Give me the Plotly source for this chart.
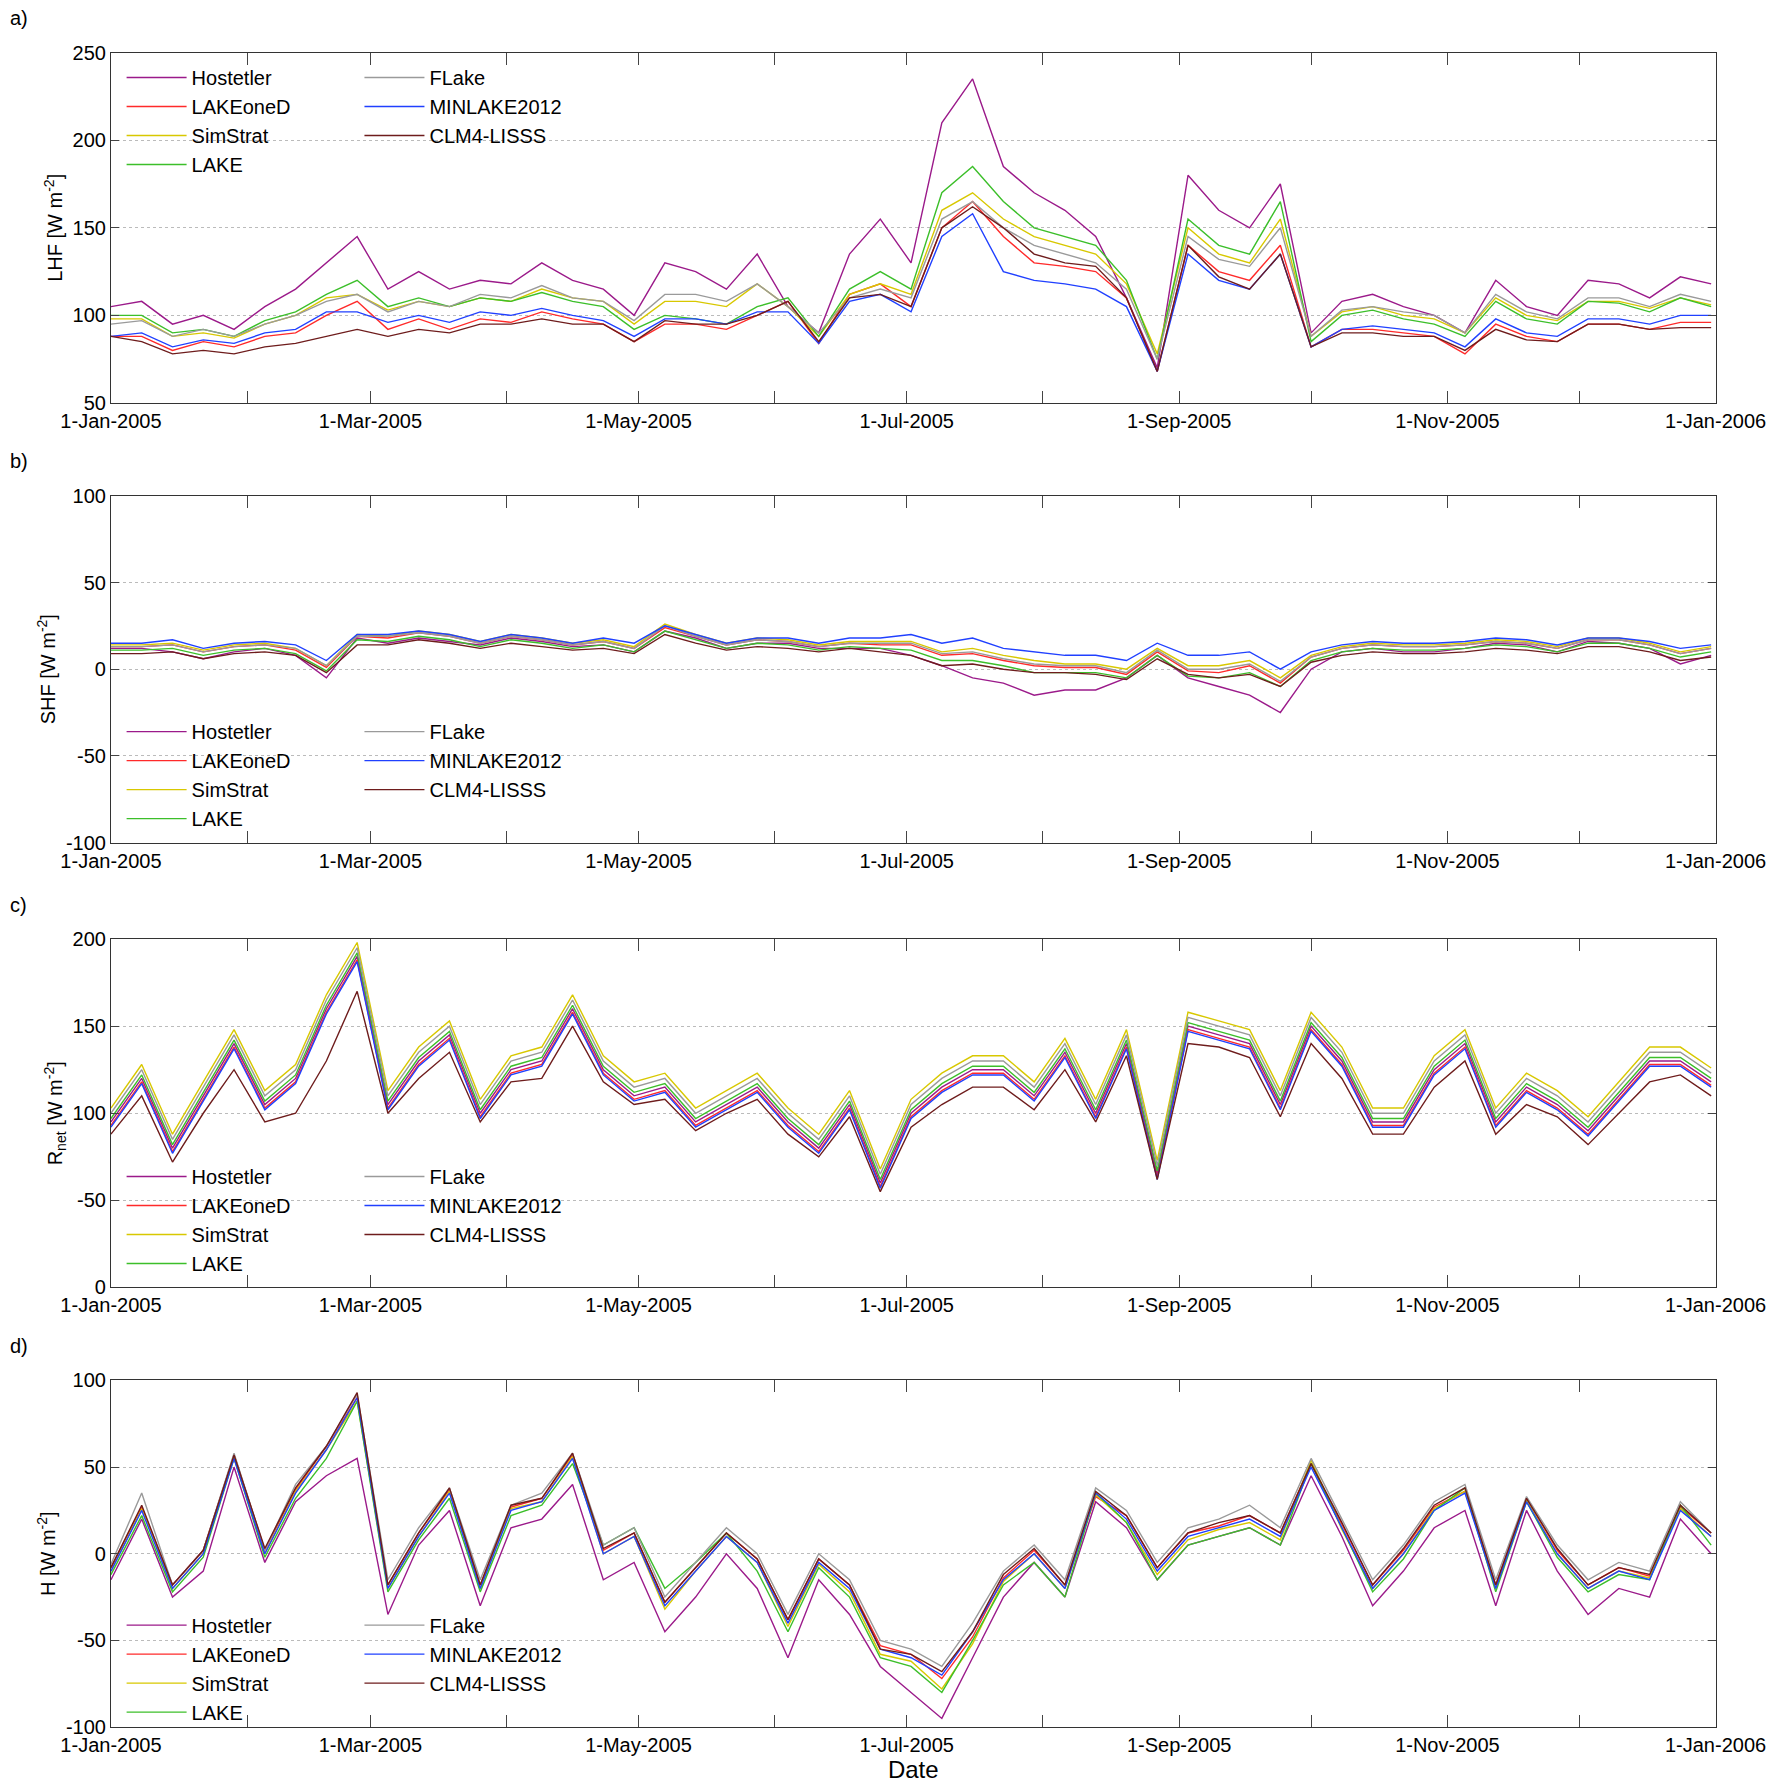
import pandas as pd
import plotly.graph_objects as go

# weekly readings, 1-Jan-2005 .. 31-Dec-2005
dates = pd.date_range('2005-01-01', periods=53, freq='7D')
models = ['Hostetler', 'LAKEoneD', 'SimStrat', 'LAKE', 'FLake', 'MINLAKE2012', 'CLM4-LISSS']
colors = ['#9b1a8a', '#ff2a2a', '#d8c800', '#3cbf2a', '#9a9a9a', '#2040ff', '#6e1c1c']

# a) latent heat flux
lhf_hostetler = [105,108,95,100,92,105,115,130,145,115,125,115,120,118,130,120,115,100,130,125,115,135,105,90,135,155,130,210,235,185,170,160,145,110,70,180,160,150,175,90,108,112,105,100,90,120,105,100,120,118,110,122,118]
lhf_lakeoned = [88,88,80,85,82,88,90,100,108,92,98,92,98,96,102,98,95,85,95,95,92,100,108,84,112,118,105,150,165,145,130,128,125,110,68,140,125,120,140,82,92,92,90,88,78,95,88,85,95,95,92,96,96]
lhf_simstrat = [98,98,88,90,87,95,100,110,112,103,108,105,110,108,115,110,108,95,108,108,105,118,105,88,112,118,112,160,170,155,145,140,135,118,78,150,135,130,155,88,102,105,100,98,90,110,100,97,108,108,104,110,106]
lhf_lake = [100,100,90,92,88,97,102,112,120,105,110,105,110,108,113,108,105,92,100,98,95,105,110,88,115,125,115,170,185,165,150,145,140,120,75,155,140,135,165,85,100,103,98,95,88,108,98,95,108,107,102,110,105]
lhf_flake = [95,97,88,92,88,95,100,108,112,102,108,105,112,110,117,110,108,97,112,112,108,118,105,90,110,115,110,155,165,150,140,135,130,115,75,145,132,128,150,88,103,105,102,100,90,112,102,98,110,110,105,112,108]
lhf_minlake = [88,90,82,86,84,90,92,102,102,96,100,96,102,100,104,100,97,88,98,98,95,102,102,84,108,112,102,145,158,125,120,118,115,105,68,135,120,115,135,82,92,94,92,90,82,98,90,88,98,98,95,100,100]
lhf_clm = [88,85,78,80,78,82,84,88,92,88,92,90,95,95,98,95,95,85,97,95,95,100,108,85,110,112,105,150,162,150,135,130,128,110,68,140,122,115,135,82,90,90,88,88,80,92,86,85,95,95,92,93,93]

# b) sensible heat flux
shf_hostetler = [12,12,10,6,10,12,8,-5,18,15,18,16,14,18,16,13,14,10,22,18,12,15,15,12,12,12,8,2,-5,-8,-15,-12,-12,-5,8,-5,-10,-15,-25,0,10,12,10,10,12,15,14,10,16,15,12,3,8]
shf_lakeoned = [13,13,14,10,13,14,11,1,19,18,21,19,15,19,17,14,16,12,24,19,14,17,16,13,15,14,14,8,9,5,2,1,1,-3,10,-1,-2,2,-8,7,12,14,13,13,14,16,15,12,17,17,14,9,12]
shf_simstrat = [14,14,15,11,14,15,12,2,20,19,22,20,16,20,18,15,17,13,26,20,15,18,17,14,16,16,16,10,12,8,5,3,3,0,12,2,2,5,-5,8,13,15,14,14,15,17,16,13,18,18,15,10,13]
shf_lake = [11,11,12,8,11,12,9,-1,17,16,19,17,13,17,15,12,14,10,22,17,12,15,14,11,13,12,11,5,5,2,-2,-2,-2,-5,8,-4,-5,-2,-10,5,10,12,11,11,12,14,13,10,15,15,12,7,10]
shf_flake = [13,13,14,10,13,14,12,2,19,19,21,19,15,19,17,14,16,12,25,19,14,17,16,13,15,15,15,9,10,6,3,2,2,-2,11,0,0,3,-7,7,12,14,13,13,14,16,15,12,17,17,14,9,12]
shf_minlake = [15,15,17,12,15,16,14,5,20,20,22,20,16,20,18,15,18,15,25,20,15,18,18,15,18,18,20,15,18,12,10,8,8,5,15,8,8,10,0,10,14,16,15,15,16,18,17,14,18,18,16,12,14]
shf_clm = [9,9,10,6,9,10,8,-2,14,14,17,15,12,15,13,11,12,9,20,15,11,13,12,10,12,10,8,2,3,0,-2,-2,-3,-6,6,-3,-5,-3,-10,4,8,10,9,9,10,12,11,9,13,13,10,5,7]

# c) net radiation
rnet_hostetler = [95,120,80,110,140,105,120,160,190,105,130,145,100,125,130,160,125,110,115,95,105,115,95,80,105,60,100,115,125,125,110,135,100,140,65,150,145,140,105,150,130,95,95,125,140,95,115,105,90,110,130,130,118]
rnet_lakeoned = [93,118,78,108,138,103,118,158,188,103,128,143,98,123,128,158,123,108,113,93,103,113,93,78,103,58,98,113,123,123,108,133,98,138,63,148,143,138,103,148,128,93,93,123,138,93,113,103,88,108,128,128,116]
rnet_simstrat = [103,128,88,118,148,113,128,168,198,113,138,153,108,133,138,168,133,118,123,103,113,123,103,88,113,68,108,123,133,133,118,143,108,148,73,158,153,148,113,158,138,103,103,133,148,103,123,113,98,118,138,138,126]
rnet_lake = [97,122,82,112,142,107,122,162,192,107,132,147,102,127,132,162,127,112,117,97,107,117,97,82,107,62,102,117,127,127,112,137,102,142,67,152,147,142,107,152,132,97,97,127,142,97,117,107,92,112,132,132,120]
rnet_flake = [100,125,85,115,145,110,125,165,195,110,135,150,105,130,135,165,130,115,120,100,110,120,100,85,110,65,105,120,130,130,115,140,105,145,70,155,150,145,110,155,135,100,100,130,145,100,120,110,95,115,135,135,123]
rnet_minlake = [92,117,77,107,137,102,117,157,187,102,127,142,97,122,127,157,122,107,112,92,102,112,92,77,102,57,97,112,122,122,107,132,97,137,62,147,142,137,102,147,127,92,92,122,137,92,112,102,87,107,127,127,115]
rnet_clm = [88,110,72,100,125,95,100,130,170,100,120,135,95,118,120,150,118,105,108,90,100,108,88,75,98,55,92,105,115,115,102,125,95,133,62,140,138,132,98,140,120,88,88,115,130,88,105,98,82,100,118,122,110]

# d) heat storage
h_hostetler = [-15,20,-25,-10,50,-5,30,45,55,-35,5,25,-30,15,20,40,-15,-5,-45,-25,0,-20,-60,-15,-35,-65,-80,-95,-60,-25,-5,-25,30,15,-15,5,10,15,5,45,10,-30,-10,15,25,-30,25,-10,-35,-20,-25,20,0]
h_lakeoned = [-8,27,-18,2,57,2,37,62,90,-18,12,37,-18,27,32,57,2,12,-28,-8,12,-3,-38,-3,-18,-53,-58,-72,-48,-14,2,-18,33,22,-8,12,16,22,12,52,17,-18,2,27,36,-18,32,2,-18,-8,-13,27,12]
h_simstrat = [-10,26,-20,0,56,0,36,60,88,-20,10,36,-20,26,30,56,0,10,-32,-10,10,-5,-42,-6,-22,-58,-62,-78,-52,-16,0,-20,34,18,-12,8,14,18,8,54,14,-20,0,26,36,-20,31,0,-20,-10,-14,26,10]
h_lake = [-12,22,-22,-2,55,-2,32,55,88,-22,8,32,-22,22,28,52,5,15,-20,-5,12,-10,-45,-8,-25,-60,-65,-80,-50,-18,-5,-25,35,18,-15,5,10,15,5,52,15,-22,-3,25,38,-22,30,-2,-22,-12,-15,28,5]
h_flake = [-6,35,-18,2,58,2,40,62,92,-15,15,38,-15,28,35,58,5,15,-25,-5,15,0,-35,0,-15,-50,-55,-65,-40,-10,5,-15,38,25,-5,15,20,28,15,55,20,-15,5,30,40,-15,33,5,-15,-5,-10,30,12]
h_minlake = [-10,25,-20,0,55,0,35,60,90,-20,10,35,-20,25,30,55,0,10,-30,-10,10,-5,-40,-5,-20,-55,-60,-70,-45,-15,0,-20,35,20,-10,10,15,20,10,50,15,-20,0,25,35,-20,30,0,-20,-10,-15,25,10]
h_clm = [-8,28,-18,2,57,3,38,62,93,-18,12,38,-18,28,32,58,3,12,-28,-8,12,-3,-38,-3,-18,-55,-58,-68,-45,-12,3,-18,36,22,-8,12,18,22,12,52,18,-18,3,28,38,-18,32,3,-18,-8,-12,28,12]

panels = [
    ([lhf_hostetler, lhf_lakeoned, lhf_simstrat, lhf_lake, lhf_flake, lhf_minlake, lhf_clm],
     'LHF [W m<sup>-2</sup>]', [50, 250], [50, 100, 150, 200, 250], ['50', '100', '150', '200', '250']),
    ([shf_hostetler, shf_lakeoned, shf_simstrat, shf_lake, shf_flake, shf_minlake, shf_clm],
     'SHF [W m<sup>-2</sup>]', [-100, 100], [-100, -50, 0, 50, 100], ['-100', '-50', '0', '50', '100']),
    ([rnet_hostetler, rnet_lakeoned, rnet_simstrat, rnet_lake, rnet_flake, rnet_minlake, rnet_clm],
     'R<sub>net</sub> [W m<sup>-2</sup>]', [0, 200], [0, 50, 100, 150, 200], ['0', '-50', '100', '150', '200']),
    ([h_hostetler, h_lakeoned, h_simstrat, h_lake, h_flake, h_minlake, h_clm],
     'H [W m<sup>-2</sup>]', [-100, 100], [-100, -50, 0, 50, 100], ['-100', '-50', '0', '50', '100']),
]
letters = ['a)', 'b)', 'c)', 'd)']
domains = [[0.779, 0.975], [0.533, 0.727], [0.284, 0.479], [0.038, 0.232]]
legend_tops = [0.972, 0.606, 0.357, 0.106]

month_ticks = pd.date_range('2005-01-01', '2006-01-01', freq='MS')
month_text = [d.strftime('%-d-%b-%Y') if d.month % 2 == 1 else '' for d in month_ticks]

fig = go.Figure()
font = dict(family='Liberation Sans, Arial', size=20, color='black')
layout = dict(width=1775, height=1787, margin=dict(l=0, r=0, t=0, b=0),
              plot_bgcolor='white', paper_bgcolor='white', font=font, showlegend=True)
annotations = []

for p, (series, ytitle, yrange, yticks, ytext) in enumerate(panels):
    n = p + 1
    xa = 'x' if n == 1 else 'x%d' % n
    ya = 'y' if n == 1 else 'y%d' % n
    leg1 = 'legend' if p == 0 else 'legend%d' % (2 * p + 1)
    leg2 = 'legend%d' % (2 * p + 2)
    for k, (name, col, vals) in enumerate(zip(models, colors, series)):
        fig.add_scatter(x=dates, y=vals, mode='lines', name=name,
                        line=dict(color=col, width=1.4), xaxis=xa, yaxis=ya,
                        legend=leg1 if k < 4 else leg2)
    for lg, lx in ((leg1, 0.064), (leg2, 0.198)):
        layout[lg] = dict(x=lx, y=legend_tops[p], xanchor='left', yanchor='top',
                          bgcolor='rgba(0,0,0,0)', font=dict(size=20), tracegroupgap=0,
                          itemwidth=60)
    axkey = 'xaxis' if n == 1 else 'xaxis%d' % n
    aykey = 'yaxis' if n == 1 else 'yaxis%d' % n
    layout[axkey] = dict(domain=[0.058, 0.962], anchor=ya, range=['2005-01-01', '2006-01-01'],
                         tickvals=list(month_ticks), ticktext=month_text, ticks='inside',
                         ticklen=12, mirror='allticks', showline=True, linecolor='#333',
                         showgrid=False, tickfont=dict(size=20), automargin=False,
                         title=dict(text='Date', standoff=2) if n == 4 else None)
    layout[aykey] = dict(domain=domains[p], anchor=xa, range=yrange, tickvals=yticks,
                         ticktext=ytext, ticks='inside', ticklen=8, mirror='allticks',
                         showline=True, linecolor='#333', showgrid=True,
                         gridcolor='#bbbbbb', griddash='dot', zeroline=False,
                         tickfont=dict(size=20), automargin=False,
                         title=dict(text=ytitle, standoff=4, font=dict(size=20)))
    annotations.append(dict(text=letters[p], x=0.0, y=domains[p][1] + 0.012, xref='paper',
                            yref='paper', xanchor='left', yanchor='bottom', showarrow=False,
                            font=dict(size=20)))

layout['annotations'] = annotations
fig.update_layout(**layout)
fig.write_html("out.html")
